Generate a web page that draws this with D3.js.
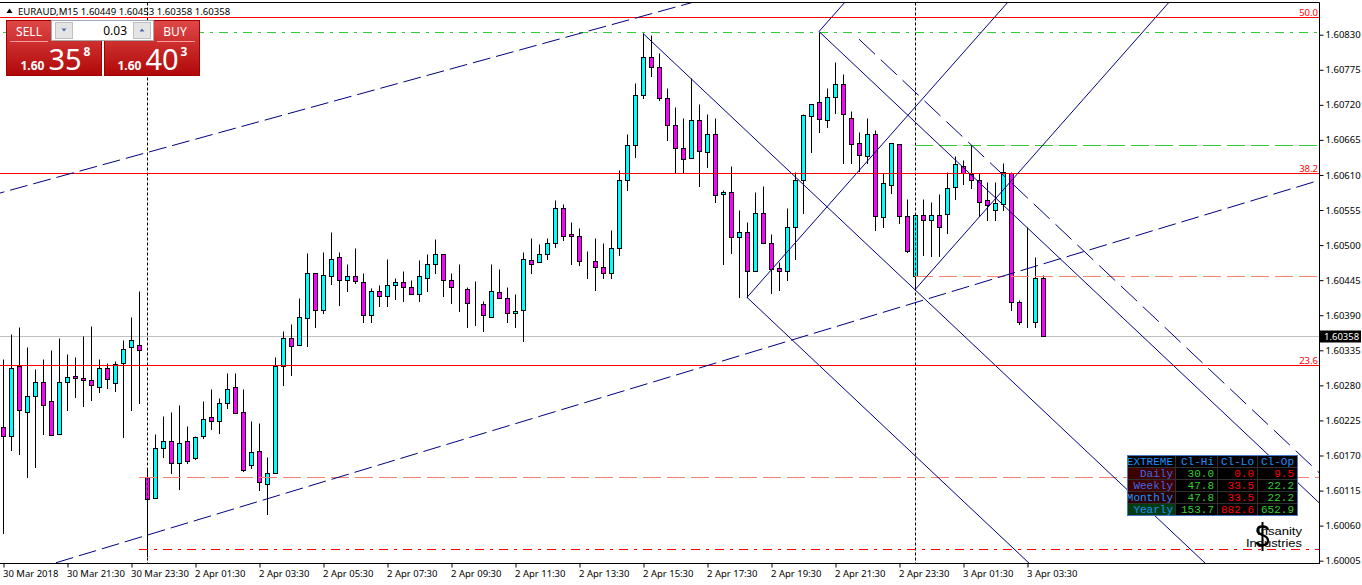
<!DOCTYPE html>
<html><head><meta charset="utf-8">
<script src="https://cdn.jsdelivr.net/npm/d3@7"></script>
<style>
html,body{margin:0;padding:0;background:#fff;overflow:hidden}
svg{display:block}
</style></head><body>
<svg id="c" width="1362" height="585"></svg>
<script>
// ---------------- DATA ----------------
const symbolTitle = "EURAUD,M15";
const titleQuote = ["1.60449", "1.60453", "1.60358", "1.60358"];
const timeTickIndex = [0,8,16,24,32,40,48,56,64,72,80,88,96,104,112,120,128];
const timeTickLabels = ["30 Mar 2018","30 Mar 21:30","30 Mar 23:30","2 Apr 01:30","2 Apr 03:30","2 Apr 05:30","2 Apr 07:30","2 Apr 09:30","2 Apr 11:30","2 Apr 13:30","2 Apr 15:30","2 Apr 17:30","2 Apr 19:30","2 Apr 21:30","2 Apr 23:30","3 Apr 01:30","3 Apr 03:30"];
const priceTicks = [1.60830,1.60775,1.60720,1.60665,1.60610,1.60555,1.60500,1.60445,1.60390,1.60335,1.60280,1.60225,1.60170,1.60115,1.60060,1.60005];

const open = [1.60214,1.60201,1.60310,1.60238,1.60263,1.60285,1.60255,1.60203,1.60286,1.60294,
1.60291,1.60288,1.60277,1.60307,1.60283,1.60315,1.60340,1.60344,1.60136,1.60104,
1.60181,1.60192,1.60159,1.60192,1.60166,1.60200,1.60230,1.60224,1.60253,1.60277,
1.60238,1.60155,1.60177,1.60126,1.60142,1.60310,1.60354,1.60344,1.60385,1.60456,
1.60398,1.60451,1.60481,1.60445,1.60451,1.60442,1.60390,1.60428,1.60420,1.60437,
1.60442,1.60434,1.60423,1.60449,1.60470,1.60486,1.60445,1.60431,1.60431,1.60409,
1.60407,1.60388,1.60426,1.60417,1.60393,1.60398,1.60476,1.60473,1.60486,1.60503,
1.60558,1.60517,1.60515,1.60475,1.60475,1.60465,1.60456,1.60495,1.60602,1.60657,
1.60735,1.60795,1.60779,1.60730,1.60689,1.60653,1.60636,1.60696,1.60646,1.60674,
1.60580,1.60583,1.60512,1.60520,1.60460,1.60551,1.60504,1.60464,1.60460,1.60529,
1.60602,1.60702,1.60724,1.60696,1.60733,1.60752,1.60700,1.60660,1.60639,1.60675,
1.60544,1.60594,1.60658,1.60546,1.60452,1.60547,1.60540,1.60547,1.60548,1.60591,
1.60624,1.60611,1.60602,1.60570,1.60555,1.60565,1.60613,1.60411,1.60376,1.60379,1.60449];
const high = [1.60322,1.60361,1.60372,1.60340,1.60306,1.60321,1.60335,1.60355,1.60329,1.60324,
1.60357,1.60373,1.60321,1.60315,1.60318,1.60351,1.60387,1.60428,1.60149,1.60203,
1.60232,1.60239,1.60249,1.60217,1.60201,1.60255,1.60275,1.60260,1.60299,1.60299,
1.60274,1.60224,1.60221,1.60167,1.60324,1.60365,1.60377,1.60417,1.60487,1.60457,
1.60489,1.60520,1.60489,1.60470,1.60495,1.60457,1.60432,1.60437,1.60478,1.60449,
1.60459,1.60445,1.60476,1.60486,1.60509,1.60486,1.60457,1.60471,1.60434,1.60443,
1.60412,1.60471,1.60462,1.60434,1.60424,1.60489,1.60511,1.60501,1.60511,1.60571,
1.60564,1.60536,1.60527,1.60490,1.60511,1.60504,1.60524,1.60618,1.60675,1.60755,
1.60832,1.60830,1.60801,1.60746,1.60716,1.60699,1.60762,1.60722,1.60705,1.60700,
1.60586,1.60624,1.60555,1.60536,1.60583,1.60592,1.60518,1.60473,1.60558,1.60615,
1.60705,1.60722,1.60835,1.60747,1.60787,1.60769,1.60710,1.60678,1.60700,1.60681,
1.60613,1.60660,1.60658,1.60573,1.60550,1.60573,1.60567,1.60580,1.60614,1.60639,
1.60633,1.60657,1.60613,1.60599,1.60599,1.60628,1.60615,1.60414,1.60529,1.60482,1.60453];
const low = [1.60048,1.60179,1.60173,1.60137,1.60152,1.60203,1.60202,1.60203,1.60242,1.60261,
1.60248,1.60257,1.60269,1.60276,1.60271,1.60199,1.60242,1.60252,1.60012,1.60104,
1.60167,1.60143,1.60118,1.60158,1.60164,1.60197,1.60211,1.60206,1.60244,1.60236,
1.60145,1.60151,1.60116,1.60079,1.60142,1.60280,1.60297,1.60343,1.60342,1.60372,
1.60393,1.60439,1.60406,1.60428,1.60440,1.60379,1.60379,1.60404,1.60404,1.60415,
1.60413,1.60423,1.60413,1.60428,1.60456,1.60420,1.60409,1.60396,1.60371,1.60374,
1.60365,1.60387,1.60417,1.60380,1.60372,1.60349,1.60457,1.60473,1.60478,1.60497,
1.60508,1.60471,1.60469,1.60449,1.60429,1.60449,1.60449,1.60484,1.60586,1.60638,
1.60730,1.60766,1.60728,1.60665,1.60613,1.60613,1.60636,1.60592,1.60623,1.60568,
1.60471,1.60488,1.60418,1.60418,1.60460,1.60504,1.60425,1.60429,1.60445,1.60478,
1.60550,1.60646,1.60678,1.60686,1.60707,1.60628,1.60628,1.60616,1.60628,1.60523,
1.60529,1.60581,1.60535,1.60489,1.60430,1.60484,1.60483,1.60483,1.60519,1.60572,
1.60596,1.60589,1.60545,1.60539,1.60539,1.60555,1.60398,1.60376,1.60372,1.60372,1.60358];
const close = [1.60201,1.60307,1.60241,1.60264,1.60286,1.60249,1.60202,1.60286,1.60293,1.60291,
1.60288,1.60280,1.60307,1.60290,1.60313,1.60337,1.60351,1.60335,1.60101,1.60181,
1.60192,1.60158,1.60189,1.60162,1.60199,1.60227,1.60224,1.60252,1.60275,1.60236,
1.60148,1.60175,1.60128,1.60142,1.60311,1.60354,1.60341,1.60387,1.60456,1.60398,
1.60453,1.60478,1.60445,1.60451,1.60443,1.60391,1.60428,1.60420,1.60437,1.60442,
1.60434,1.60423,1.60451,1.60470,1.60486,1.60445,1.60434,1.60431,1.60409,1.60409,
1.60390,1.60428,1.60417,1.60393,1.60396,1.60478,1.60471,1.60486,1.60503,1.60558,
1.60515,1.60514,1.60475,1.60475,1.60465,1.60456,1.60495,1.60602,1.60657,1.60735,
1.60795,1.60779,1.60730,1.60688,1.60653,1.60635,1.60696,1.60647,1.60675,1.60579,
1.60583,1.60512,1.60520,1.60460,1.60551,1.60504,1.60462,1.60460,1.60529,1.60602,
1.60704,1.60722,1.60697,1.60732,1.60752,1.60705,1.60658,1.60641,1.60675,1.60545,
1.60597,1.60660,1.60545,1.60490,1.60547,1.60539,1.60547,1.60528,1.60589,1.60627,
1.60613,1.60602,1.60568,1.60563,1.60566,1.60614,1.60411,1.60379,1.60376,1.60448,1.60358];

const currentBid = 1.60358;
const fibLabels = ["50.0","38.2","23.6"];
const fibPrices = [1.60857,1.60613,1.60312];
// horizontal levels: price, start bar index, colour, dash style
const levelPrices = [1.60835, 1.60657, 1.60452, 1.60136, 1.60023];
const levelStart  = [0, 114, 114, 17, 17];
const levelColors = ["#32cd32","#32cd32","#fa8072","#fa8072","#ff0000"];
const levelStyles = ["dashdot","dash","dash","dash","dashdot"];
const separatorBars = [18, 114];
// trend lines: [bar1, price1, bar2, price2, extendLeft, style]
const channelLines = [
  [0,1.60583,86,1.60880,true,"dash"],
  [8,1.60007,162,1.60592,true,"dash"]
];
const rayLines = [
  [80,1.60832,114,1.60430,"solid"],
  [102,1.60835,136,1.60433,"solid"],
  [93,1.60418,127,1.60016,"solid"],
  [107,1.60823,141,1.60421,"longdash"],
  [93,1.60418,113,1.60702,"solid"],
  [114,1.60430,134,1.60714,"solid"],
  [102,1.60835,112,1.60977,"solid"]
];
// EXTREME table
const tableHeader = ["EXTREME","Cl-Hi","Cl-Lo","Cl-Op"];
const tableRows = ["Daily","Weekly","Monthly","Yearly"];
const clHi = [30.0,47.8,47.8,153.7];
const clLo = [0.0,33.5,33.5,882.6];
const clOp = [9.5,22.2,22.2,652.9];
const clOpUp = [false,true,true,true];
// trade panel
const lotSize = "0.03";
const sellParts = ["1.60","35","8"];
const buyParts = ["1.60","40","3"];
const logoWords = ["Insanity","Industries"];

// ---------------- DRAW ----------------
const svg = d3.select("#c");
const FONT = "'Noto Sans', 'DejaVu Sans', sans-serif";
const R = 1319, B = 563.5, T = 2.5;
const x = d3.scaleLinear().domain([0,130]).range([3,1043]);
const y = d3.scaleLinear().domain([1.60005,1.60830]).range([560.7,34.7]);
const py = v => Math.round(y(v)) + 0.5;
const dashMap = {solid:null, dash:"18,6", longdash:"22,8", dashdot:"9,6,3,6", dot:"2,2"};

svg.append("rect").attr("width",1362).attr("height",585).attr("fill","#fff");
const defs = svg.append("defs");
defs.append("clipPath").attr("id","plot").append("rect")
  .attr("x",0).attr("y",T).attr("width",R).attr("height",B-T);

const plot = svg.append("g").attr("clip-path","url(#plot)");

plot.append("line").attr("x1",0).attr("x2",R).attr("y1",py(currentBid)).attr("y2",py(currentBid))
  .attr("stroke","#c0c0c0");

// candles
const idx = d3.range(open.length);
const cg = plot.append("g");
cg.selectAll("line.w").data(idx).join("line")
  .attr("x1",i=>x(i)+0.5).attr("x2",i=>x(i)+0.5)
  .attr("y1",i=>py(high[i])).attr("y2",i=>py(low[i]) + 0.5)
  .attr("stroke","#000");
cg.selectAll("rect.b").data(idx).join("rect")
  .attr("x",i=>x(i)-1.5).attr("width",4)
  .attr("y",i=>py(Math.max(open[i],close[i])))
  .attr("height",i=>Math.max(0, py(Math.min(open[i],close[i])) - py(Math.max(open[i],close[i]))))
  .attr("fill",i=>close[i]>open[i] ? "#00ffff" : "#ff00ff")
  .attr("stroke","#000");

separatorBars.forEach(b=>{
  plot.append("line").attr("x1",x(b)+0.5).attr("x2",x(b)+0.5).attr("y1",T).attr("y2",B)
    .attr("stroke","#000").attr("stroke-dasharray","3,2");
});

fibPrices.forEach((p,k)=>{
  plot.append("line").attr("x1",0).attr("x2",R).attr("y1",py(p)).attr("y2",py(p)).attr("stroke","#ff0000");
});
levelPrices.forEach((p,k)=>{
  plot.append("line").attr("x1",x(levelStart[k])).attr("x2",R).attr("y1",py(p)).attr("y2",py(p))
    .attr("stroke",levelColors[k]).attr("stroke-dasharray",dashMap[levelStyles[k]]);
});

const NAVY = "#000080";
function extendTo(l, iEnd){
  const s = (l[3]-l[1])/(l[2]-l[0]);
  return l[1] + s*(iEnd - l[0]);
}
channelLines.forEach(l=>{
  plot.append("line").attr("x1",x(-2)).attr("y1",y(extendTo(l,-2)))
    .attr("x2",x(170)).attr("y2",y(extendTo(l,170)))
    .attr("stroke",NAVY).attr("stroke-dasharray",dashMap[l[5]]);
});
rayLines.forEach(l=>{
  plot.append("line").attr("x1",x(l[0])).attr("y1",y(l[1]))
    .attr("x2",x(175)).attr("y2",y(extendTo(l,175)))
    .attr("stroke",NAVY).attr("stroke-dasharray",dashMap[l[4]]);
});

fibPrices.forEach((p,k)=>{
  svg.append("text").attr("x",R-1).attr("y",py(p)-2).attr("text-anchor","end")
    .attr("font-family",FONT).attr("font-size",9.5).attr("fill","#ff0000").text(fibLabels[k]);
});

svg.append("line").attr("x1",0).attr("x2",R+0.5).attr("y1",T).attr("y2",T).attr("stroke","#000");
svg.append("line").attr("x1",R+0.5).attr("x2",R+0.5).attr("y1",T).attr("y2",B+0.5).attr("stroke","#000");
svg.append("line").attr("x1",0).attr("x2",R+0.5).attr("y1",B).attr("y2",B).attr("stroke","#000");

const yAxis = d3.axisRight(y).tickValues(priceTicks).tickFormat(d3.format(".5f")).tickSize(4).tickPadding(2);
const ya = svg.append("g").attr("transform",`translate(${R+0.5},0)`).call(yAxis);
ya.select(".domain").remove();
ya.selectAll("text").attr("font-family",FONT).attr("font-size",9.5).attr("fill","#000");
ya.selectAll("line").attr("stroke","#000");

const xAxis = d3.axisBottom(x).tickValues(timeTickIndex)
  .tickFormat((d,k)=>timeTickLabels[k]).tickSize(4).tickPadding(3);
const xa = svg.append("g").attr("transform",`translate(0.5,${B})`).call(xAxis);
xa.select(".domain").remove();
xa.selectAll("text").attr("font-family",FONT).attr("font-size",9.5).attr("fill","#000")
  .attr("text-anchor","start").attr("dx",-1);
xa.selectAll("line").attr("stroke","#000");

const bidY = py(currentBid);
svg.append("rect").attr("x",R+1).attr("y",bidY-6).attr("width",41).attr("height",12).attr("fill","#000");
svg.append("text").attr("x",R+5).attr("y",bidY+3.5).attr("font-family",FONT).attr("font-size",9.5)
  .attr("fill","#fff").text(d3.format(".5f")(currentBid));

svg.append("path").attr("d","M6.5,13 L9.5,8.5 L12.5,13 Z").attr("fill","#000");
svg.append("text").attr("x",18).attr("y",14.5).attr("font-family",FONT).attr("font-size",9.6)
  .attr("fill","#000").text(symbolTitle + "  " + titleQuote.join(" "));

// ---------------- trade panel ----------------
const grad = defs.append("linearGradient").attr("id","red").attr("x1",0).attr("x2",0).attr("y1",0).attr("y2",1);
grad.append("stop").attr("offset","0%").attr("stop-color","#e04848");
grad.append("stop").attr("offset","100%").attr("stop-color","#b00808");
const pnl = svg.append("g");
pnl.append("rect").attr("x",6.5).attr("y",20.5).attr("width",95).attr("height",55).attr("fill","url(#red)").attr("stroke","#a00000");
pnl.append("rect").attr("x",104.5).attr("y",20.5).attr("width",95).attr("height",55).attr("fill","url(#red)").attr("stroke","#a00000");
pnl.append("line").attr("x1",10).attr("x2",48).attr("y1",41.5).attr("y2",41.5).attr("stroke","#f4a0a0");
pnl.append("line").attr("x1",157).attr("x2",195).attr("y1",41.5).attr("y2",41.5).attr("stroke","#f4a0a0");
pnl.append("text").attr("x",29).attr("y",35.5).attr("text-anchor","middle").attr("font-family",FONT)
  .attr("font-size",12).attr("fill","#fff").text("SELL");
pnl.append("text").attr("x",175).attr("y",35.5).attr("text-anchor","middle").attr("font-family",FONT)
  .attr("font-size",12).attr("fill","#fff").text("BUY");
pnl.append("rect").attr("x",51.5).attr("y",20.5).attr("width",102).attr("height",20).attr("fill","#fff").attr("stroke","#a8a8a8");
pnl.append("rect").attr("x",55.5).attr("y",22.5).attr("width",17).attr("height",16).attr("fill","#e4e4e4").attr("stroke","#c0c0c0");
pnl.append("rect").attr("x",133.5).attr("y",22.5).attr("width",17).attr("height",16).attr("fill","#e4e4e4").attr("stroke","#c0c0c0");
pnl.append("path").attr("d","M61.5,28.5 L66.5,28.5 L64,31.5 Z").attr("fill","#4a6ab0");
pnl.append("path").attr("d","M139.5,31.5 L144.5,31.5 L142,28.5 Z").attr("fill","#4a6ab0");
pnl.append("text").attr("x",127).attr("y",35).attr("text-anchor","end").attr("font-family",FONT)
  .attr("font-size",12).attr("fill","#000").text(lotSize);
function priceBlock(px, parts){
  pnl.append("text").attr("x",px).attr("y",70).attr("font-family",FONT).attr("font-size",12)
    .attr("font-weight","bold").attr("fill","#fff").text(parts[0]);
  pnl.append("text").attr("x",px+28).attr("y",70).attr("font-family",FONT).attr("font-size",29)
    .attr("fill","#fff").text(parts[1]);
  pnl.append("text").attr("x",px+63).attr("y",56).attr("font-family",FONT).attr("font-size",12)
    .attr("font-weight","bold").attr("fill","#fff").text(parts[2]);
}
priceBlock(20.5, sellParts);
priceBlock(117.5, buyParts);

// ---------------- EXTREME table ----------------
const TX = 1127, TY = 455, RH = 12;
const colX = [1127, 1175, 1217, 1257, 1297];
const MONO = "'Liberation Mono', 'DejaVu Sans Mono', monospace";
const tg = svg.append("g");
const labelBg = ["#3c0000","#3c0000","#2a0000","#003c10"];
const labelFg = ["#4169e1","#4169e1","#1e90ff","#1e90ff"];
tableHeader.forEach((h,c)=>{
  tg.append("rect").attr("x",colX[c]+0.5).attr("y",TY+0.5).attr("width",colX[c+1]-colX[c]).attr("height",RH)
    .attr("fill","#000").attr("stroke","#303030");
  tg.append("text").attr("x", c===0 ? colX[1]-2 : colX[c+1]-3).attr("y",TY+10).attr("text-anchor","end")
    .attr("font-family",MONO).attr("font-size",11).attr("fill","#1e90ff").text(h);
});
tableRows.forEach((r,k)=>{
  const ry = TY + RH*(k+1);
  tg.append("rect").attr("x",colX[0]+0.5).attr("y",ry+0.5).attr("width",colX[1]-colX[0]).attr("height",RH)
    .attr("fill",labelBg[k]).attr("stroke","#303030");
  tg.append("text").attr("x",colX[1]-2).attr("y",ry+10).attr("text-anchor","end")
    .attr("font-family",MONO).attr("font-size",11).attr("fill",labelFg[k]).text(r);
  const vals = [clHi[k], clLo[k], clOp[k]];
  const cols = ["#32cd32","#ff0000", clOpUp[k] ? "#32cd32" : "#ff0000"];
  vals.forEach((v,c)=>{
    tg.append("rect").attr("x",colX[c+1]+0.5).attr("y",ry+0.5).attr("width",colX[c+2]-colX[c+1]).attr("height",RH)
      .attr("fill","#000").attr("stroke","#303030");
    tg.append("text").attr("x",colX[c+2]-3).attr("y",ry+10).attr("text-anchor","end")
      .attr("font-family",MONO).attr("font-size",11).attr("fill",cols[c]).text(d3.format(".1f")(v));
  });
});
tg.append("rect").attr("x",TX+0.5).attr("y",TY+0.5).attr("width",colX[4]-TX).attr("height",RH*5)
  .attr("fill","none").attr("stroke","#4a78c8");

// logo
const lg = svg.append("g");
lg.append("text").attr("x",1257).attr("y",535).attr("font-family","'Liberation Sans', Arial, sans-serif")
  .attr("font-size",11.5).attr("textLength",45).attr("lengthAdjust","spacingAndGlyphs")
  .attr("fill","#000").text(logoWords[0]);
lg.append("text").attr("x",1246).attr("y",546.5).attr("font-family","'Liberation Sans', Arial, sans-serif")
  .attr("font-size",11.5).attr("textLength",56).attr("lengthAdjust","spacingAndGlyphs")
  .attr("fill","#000").text(logoWords[1]);
lg.append("path").attr("d","M1268,530 C1267,525.5 1257.5,525 1257.5,530.5 C1257.5,536 1268,534 1268,540.5 C1268,546.5 1258,546.5 1256.5,542")
  .attr("fill","none").attr("stroke","#000").attr("stroke-width",2.4);
lg.append("line").attr("x1",1262.5).attr("x2",1262.5).attr("y1",522).attr("y2",551).attr("stroke","#000").attr("stroke-width",2);
</script>
</body></html>
